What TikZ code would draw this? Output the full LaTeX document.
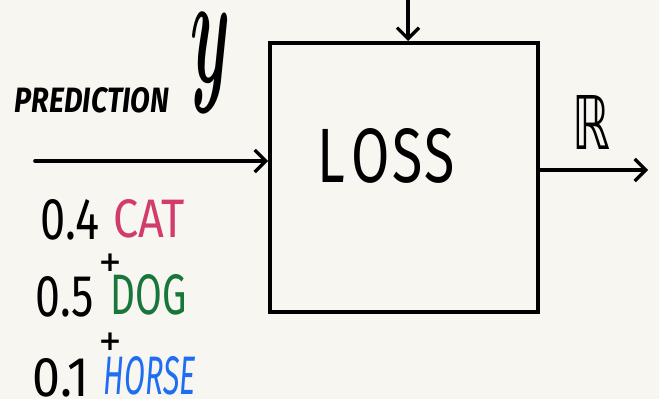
\documentclass[tikz,border=0pt]{standalone}
\usepackage{fontspec}
\usepackage{graphicx}
\setmainfont{Fira Sans}
\newfontfamily\symfont{DejaVu Sans}
\usetikzlibrary{arrows.meta}
\definecolor{paper}{HTML}{F8F6F1}
\definecolor{catpink}{HTML}{D23C6C}
\definecolor{doggreen}{HTML}{17763A}
\definecolor{horseblue}{HTML}{1F6EF2}
\tikzset{
  wire/.style={line width=3.6pt, line cap=round, line join=round,
    -{Straight Barb[length=11pt, width=22pt, line width=3.2pt]}},
  lossbox/.style={draw, line width=4pt, minimum width=268pt, minimum height=269pt, inner sep=0pt},
  label/.style={inner sep=0pt, anchor=center},
}
\newcommand{\plussym}{\fontsize{28pt}{28pt}\selectfont\symfont\bfseries +}
\begin{document}
\begin{tikzpicture}[x=1pt, y=1pt]
  \fill[paper] (0,0) rectangle (659,-399);
  \useasboundingbox (0,0) rectangle (659,-399);

  % the loss block
  \node[lossbox] (box) at (404,-177.5) {};
  \node[label] (loss) at (386,-156) {\resizebox{137pt}{54pt}{L\kern0.12em O\kern0.05em S\kern0.02em S}};

  % incoming target, prediction and outgoing value
  \coordinate (target) at (408,0);
  \coordinate (pred) at (35,-161);
  \coordinate (out) at (648,-170);
  \draw[wire] (target) -- (target |- box.north);
  \draw[wire] (pred) -- (pred -| box.west);
  \draw[wire] (box.east |- out) -- (out);

  % labels
  \node[label] (y) at (211,-63) {\resizebox*{40pt}{100pt}{\boldmath$y$}};
  \node[label] (predlbl) at (92,-100) {\resizebox{154pt}{25pt}{\bfseries\itshape PREDICTION}};
  \node[label] (R) at (591,-122) {\resizebox*{38pt}{54pt}{\symfont ℝ}};

  % predicted distribution
  \node[label] (p1) at (70,-220) {\resizebox{58pt}{40pt}{0.4}};
  \node[label, text=catpink] (c1) at (149,-219) {\resizebox{72pt}{38pt}{CAT}};
  \node[label] (plus1) at (110,-263) {\plussym};
  \node[label] (p2) at (65,-297) {\resizebox{58pt}{40pt}{0.5}};
  \node[label, text=doggreen] (c2) at (149,-295) {\resizebox{76pt}{40pt}{DOG}};
  \node[label] (plus2) at (110,-342) {\plussym};
  \node[label] (p3) at (61,-378) {\resizebox{56pt}{38pt}{0.1}};
  \node[label, text=horseblue] (c3) at (150,-376) {\resizebox{92pt}{38pt}{\itshape HORSE}};
\end{tikzpicture}
\end{document}
